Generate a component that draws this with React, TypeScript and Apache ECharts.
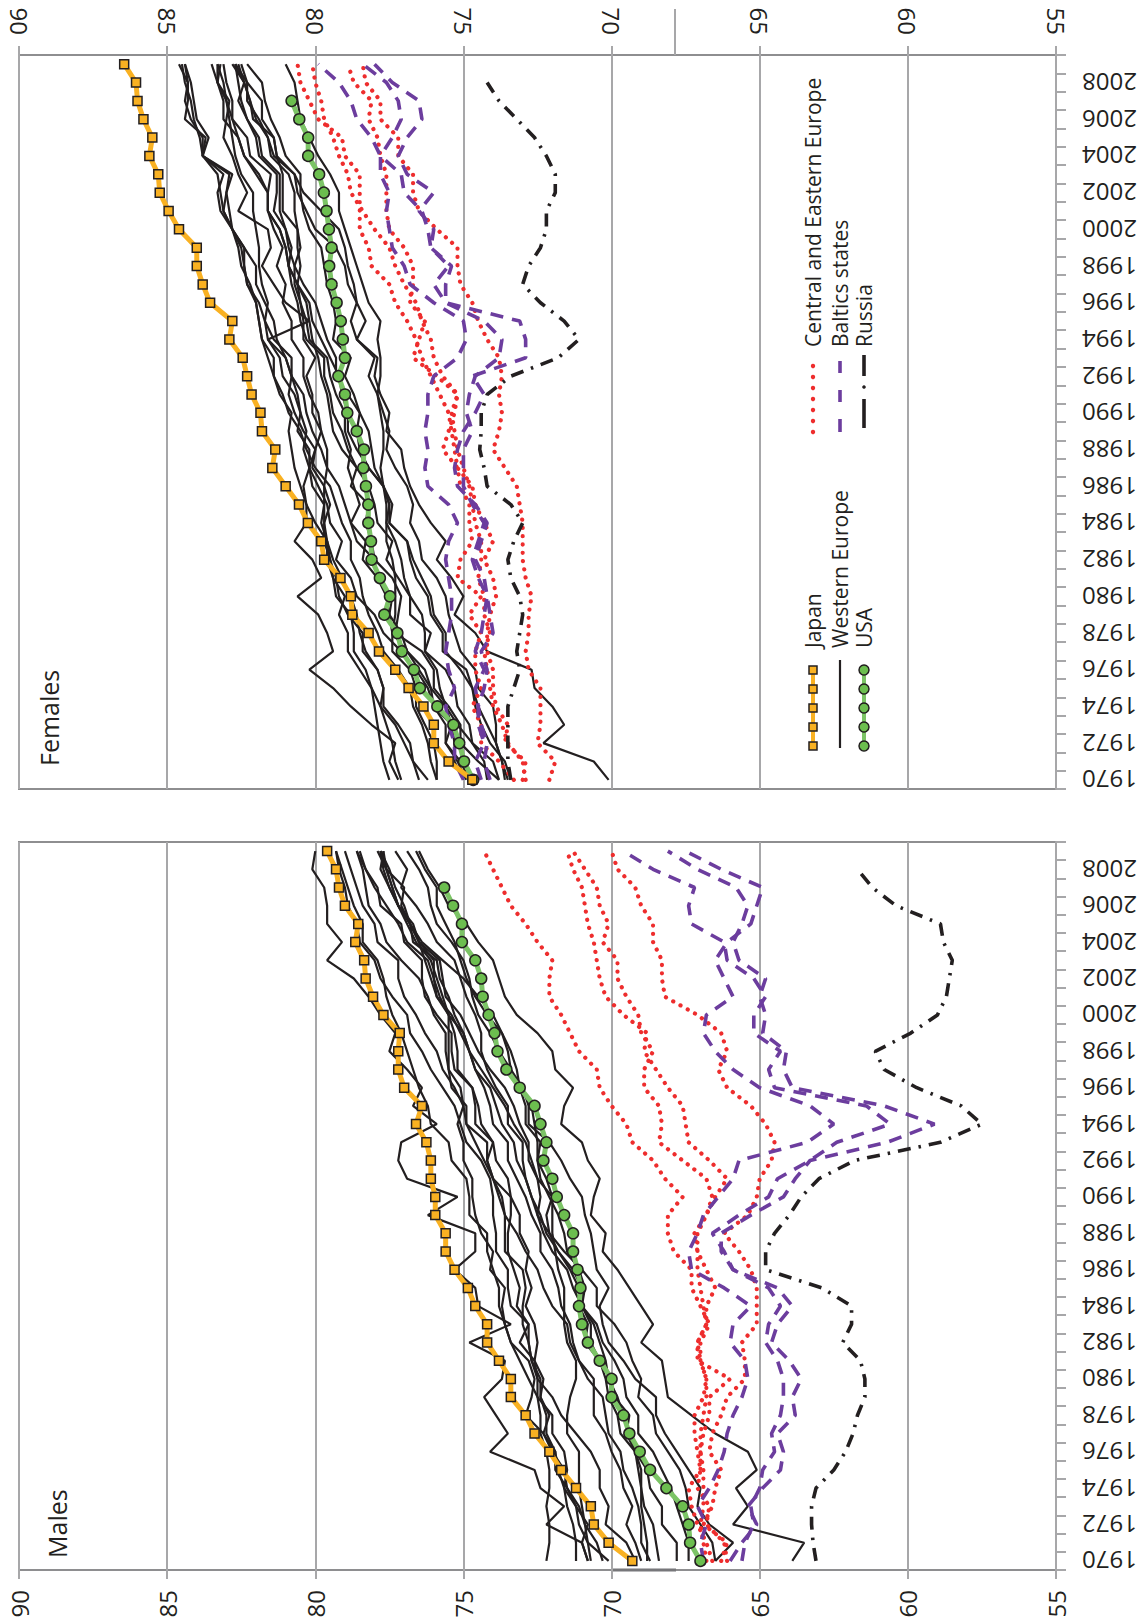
import React, { useEffect, useRef } from "react";
import * as echarts from "echarts";

// ---------- categories & ticks ----------
const years = ["1970","1971","1972","1973","1974","1975","1976","1977","1978","1979","1980","1981","1982","1983","1984","1985","1986","1987","1988","1989","1990","1991","1992","1993","1994","1995","1996","1997","1998","1999","2000","2001","2002","2003","2004","2005","2006","2007","2008","2009"];

// ---------- MALES ----------
const japanM = [69.3,70.1,70.6,70.7,71.2,71.7,72.1,72.6,72.9,73.4,73.4,73.8,74.2,74.2,74.6,74.85,75.3,75.6,75.6,75.95,75.95,76.1,76.1,76.25,76.6,76.4,77.0,77.2,77.2,77.15,77.7,78.05,78.3,78.35,78.65,78.55,79.0,79.2,79.3,79.6];
const usaM = [67.0,67.35,67.4,67.6,68.15,68.7,69.05,69.4,69.6,70.0,70.0,70.4,70.8,71.0,71.1,71.05,71.15,71.3,71.3,71.6,71.85,72.0,72.3,72.2,72.4,72.6,73.1,73.55,73.85,73.95,74.15,74.35,74.4,74.6,75.05,75.05,75.35,75.65];
const russiaM = [63.1,63.2,63.25,63.25,63.1,62.5,62.1,61.85,61.7,61.45,61.45,61.6,62.2,61.9,61.9,62.9,64.8,64.8,64.5,64.0,63.6,63.0,61.8,58.9,57.5,58.2,59.7,60.8,61.1,59.9,59.0,58.7,58.6,58.5,58.8,58.9,60.4,61.2,61.7];
const estoniaM = [65.6,65.5,65.2,65.3,65.0,64.9,64.5,64.6,64.3,64.2,64.2,64.4,64.8,64.7,64.3,64.7,65.9,66.2,66.6,65.7,64.7,64.4,63.3,62.4,60.6,61.4,64.5,64.7,64.3,65.2,65.2,64.8,65.2,66.1,66.2,67.3,67.4,67.2,68.6,69.6];
const latviaM = [66.0,65.6,65.1,65.4,64.9,64.3,64.2,64.4,63.8,63.9,63.6,64.0,64.6,64.4,63.9,64.4,65.9,66.3,66.3,65.3,64.2,63.8,63.3,60.7,59.1,60.8,63.9,64.2,64.1,64.9,64.8,65.0,64.8,65.7,65.9,65.6,65.4,65.8,67.1,68.1];
const lithuaniaM = [66.9,67.0,66.8,67.1,66.7,66.4,66.2,66.1,65.9,65.6,65.4,65.5,66.0,65.9,65.3,66.2,67.3,67.4,67.1,66.9,66.4,65.9,65.7,63.4,62.5,63.3,65.0,65.9,66.5,66.9,66.8,65.9,66.2,66.5,66.1,65.3,65.1,64.9,66.3,67.5];
const czechM = [66.1,66.2,66.8,66.7,67.1,67.0,67.1,67.2,67.2,66.9,66.8,67.0,67.0,66.7,67.0,67.3,67.3,67.9,68.1,68.1,67.6,68.2,68.6,69.3,69.5,70.0,70.4,70.5,71.1,71.4,71.7,72.1,72.1,72.0,72.5,72.9,73.4,73.7,74.0,74.3];
const slovakiaM = [66.8,66.9,67.0,66.9,66.9,66.9,67.0,67.0,66.9,66.8,66.8,67.0,67.1,66.8,66.9,67.0,67.1,67.1,67.1,66.8,66.6,66.8,67.6,68.4,68.3,68.4,68.9,68.9,68.6,69.0,69.1,69.5,69.8,69.8,70.3,70.1,70.4,70.5,70.9,71.3];
const polandM = [66.6,66.8,67.1,67.3,67.4,67.0,67.0,66.9,66.7,66.7,66.0,67.1,67.1,66.8,66.8,66.5,66.8,67.1,67.2,66.8,66.5,66.1,66.7,67.4,67.5,67.6,68.1,68.5,68.9,68.8,69.6,70.2,70.4,70.5,70.6,70.8,70.9,71.0,71.3,71.5];
const hungaryM = [66.3,66.1,66.9,66.6,66.5,66.3,66.7,66.6,66.3,66.1,65.5,65.5,65.6,65.1,65.1,65.1,65.3,65.7,66.2,65.4,65.1,65.0,64.6,64.5,64.8,65.3,66.1,66.4,66.1,66.3,67.1,68.2,68.3,68.3,68.6,68.6,69.0,69.2,69.8,70.0];
const swedenM = [72.2,72.1,72.1,72.2,72.1,72.1,72.2,72.4,72.4,72.5,72.8,73.1,73.4,73.6,73.8,73.8,74.0,74.2,74.2,74.8,74.8,74.9,75.4,75.5,76.1,76.2,76.5,76.7,76.9,77.1,77.4,77.6,77.7,77.9,78.4,78.4,78.7,78.9,79.1,79.3];
const icelandM = [70.8,71.0,72.2,71.6,72.4,72.6,74.1,73.5,73.9,74.3,73.7,73.6,74.8,73.4,74.5,74.6,75.3,74.6,74.6,76.2,75.2,76.9,77.2,77.1,75.9,76.7,76.4,76.9,77.5,77.3,77.8,78.2,78.7,79.6,79.1,79.6,79.6,79.7,80.1,80.0];
const switzerlandM = [70.3,70.5,70.9,71.1,71.5,71.6,72.0,72.3,72.1,72.4,72.4,72.7,72.8,72.8,73.4,73.5,73.5,73.9,73.9,74.0,74.0,74.1,74.4,74.9,75.1,75.3,75.7,76.1,76.4,76.8,76.9,77.4,77.8,78.0,78.5,78.6,78.9,79.0,79.2,79.3];
const netherlandsM = [70.8,71.0,70.8,71.2,71.6,71.5,71.6,72.0,72.0,72.5,72.5,72.7,72.8,73.0,73.0,72.9,73.0,73.6,73.6,73.6,73.8,74.0,74.2,74.0,74.6,74.6,74.7,75.2,75.2,75.3,75.5,75.8,76.0,76.2,76.9,77.2,77.6,78.0,78.3,78.5];
const norwayM = [71.2,71.2,71.3,71.5,71.6,71.8,71.9,72.2,72.2,72.4,72.3,72.6,72.5,72.6,72.9,72.7,72.9,72.8,73.1,73.1,73.4,74.0,74.2,74.2,74.9,74.9,75.4,75.5,75.6,75.6,76.0,76.2,76.5,77.1,77.6,77.8,78.2,78.3,78.4,78.6];
const italyM = [69.0,69.2,69.5,69.3,69.6,69.7,70.0,70.2,70.6,70.6,70.6,71.1,71.4,71.5,72.0,72.3,72.5,72.9,73.2,73.6,73.7,74.0,74.3,74.6,74.9,75.0,75.3,75.7,75.9,76.3,76.6,77.0,77.2,77.2,77.9,78.0,78.4,78.6,78.8,79.0];
const spainM = [69.2,69.5,70.2,70.1,70.4,70.4,70.7,71.2,71.7,72.0,72.5,72.6,73.1,72.8,73.2,73.1,73.3,73.5,73.5,73.4,73.4,73.5,73.9,74.0,74.4,74.5,74.7,75.3,75.4,75.4,75.9,76.3,76.4,76.4,77.0,77.1,77.8,77.9,78.3,78.6];
const greeceM = [70.1,70.8,71.1,71.2,71.5,71.9,71.9,72.3,72.9,72.7,72.6,72.8,73.4,73.6,73.7,73.6,74.1,74.0,74.4,74.6,74.7,74.7,75.0,75.0,75.2,75.0,75.1,75.5,75.5,75.5,75.5,75.9,76.1,76.3,76.5,76.8,77.1,77.0,77.6,77.7];
const franceM = [68.4,68.5,68.6,68.9,69.0,69.0,69.2,69.7,69.8,70.1,70.2,70.4,70.7,70.7,71.0,71.3,71.5,72.0,72.3,72.5,72.7,72.9,73.2,73.3,73.7,73.9,74.1,74.6,74.8,75.0,75.3,75.5,75.8,75.9,76.7,76.8,77.2,77.5,77.7,77.8];
const ukM = [68.7,69.0,69.0,69.1,69.3,69.6,69.7,70.1,70.2,70.3,70.8,71.1,71.3,71.4,71.7,71.8,72.0,72.4,72.4,72.7,72.9,73.2,73.5,73.5,74.0,74.1,74.3,74.6,74.8,75.0,75.5,75.7,75.9,76.1,76.6,76.9,77.2,77.4,77.6,77.9];
const germanyM = [67.4,67.4,67.6,67.8,68.0,68.3,68.6,69.1,69.1,69.5,69.6,69.9,70.3,70.5,71.0,71.0,71.3,71.8,72.1,72.2,72.0,72.5,72.8,72.8,73.1,73.3,73.6,74.1,74.5,74.8,75.1,75.6,75.7,75.8,76.5,76.7,77.2,77.4,77.6,77.8];
const austriaM = [66.5,66.6,67.0,67.4,67.5,67.7,68.1,68.5,68.6,69.1,69.0,69.3,69.5,69.9,70.5,70.5,71.0,71.6,72.1,72.5,72.4,72.5,72.7,72.9,73.3,73.6,74.0,74.4,74.8,75.1,75.4,75.9,76.0,76.0,76.5,76.8,77.2,77.5,77.8,77.7];
const belgiumM = [67.8,67.8,68.3,68.3,68.7,68.8,69.2,69.5,69.4,69.9,70.0,70.4,70.9,70.8,71.1,71.1,71.4,71.8,72.2,72.4,72.7,72.9,73.0,73.0,73.5,73.5,73.9,74.2,74.4,74.4,74.6,74.9,75.1,75.3,75.9,76.2,76.6,77.1,76.9,77.3];
const denmarkM = [70.7,70.8,70.9,71.0,71.1,71.1,71.1,71.5,71.5,71.4,71.2,71.2,71.5,71.6,71.6,71.6,71.8,71.9,72.0,72.0,72.0,72.2,72.5,72.5,72.6,72.7,73.1,73.4,73.8,74.1,74.5,74.7,74.8,75.0,75.4,75.9,76.1,76.2,76.5,76.9];
const finlandM = [66.5,65.9,66.7,67.1,67.0,67.4,67.8,68.2,68.5,68.5,69.2,69.6,70.1,70.3,70.4,70.1,70.5,70.6,70.7,70.9,71.0,71.4,71.7,72.1,72.8,72.8,73.0,73.4,73.5,73.7,74.2,74.6,74.9,75.1,75.3,75.6,75.9,75.9,76.3,76.6];
const portugalM = [63.9,63.5,65.9,65.4,65.8,65.1,65.4,66.5,67.3,68.1,68.2,68.3,69.0,68.6,69.0,69.4,69.8,70.3,70.2,70.7,70.6,70.4,70.8,71.0,71.7,71.6,71.3,71.9,72.0,72.5,73.2,73.6,73.8,74.0,74.5,74.9,75.5,75.8,76.2,76.5];
const irelandM = [68.8,68.8,68.9,69.0,69.0,69.1,69.2,69.4,69.6,69.8,70.1,70.2,70.4,70.6,71.0,70.9,71.1,71.5,71.6,71.8,72.1,72.4,72.5,72.4,72.9,72.9,73.1,73.2,73.4,73.7,74.0,74.5,75.0,75.7,76.4,76.8,77.0,77.3,77.5,77.8];

// ---------- FEMALES ----------
const japanF = [74.7,75.5,76.0,76.0,76.35,76.85,77.3,77.85,78.2,78.75,78.8,79.15,79.7,79.8,80.25,80.55,81.0,81.45,81.35,81.8,81.85,82.15,82.3,82.45,82.9,82.8,83.55,83.8,84.0,84.0,84.6,84.95,85.25,85.3,85.6,85.5,85.8,86.0,86.05,86.45];
const usaF = [74.67,74.98,75.14,75.34,75.88,76.47,76.67,77.08,77.23,77.67,77.48,77.82,78.1,78.12,78.21,78.21,78.29,78.38,78.36,78.6,78.92,79.0,79.22,79.0,79.07,79.14,79.28,79.45,79.53,79.45,79.54,79.62,79.71,79.87,80.24,80.24,80.54,80.8];
const russiaF = [73.4,73.5,73.5,73.5,73.5,73.3,73.1,73.2,73.1,73.0,73.1,73.4,73.5,73.3,73.0,73.4,74.2,74.3,74.45,74.4,74.4,74.2,73.4,71.8,71.1,71.6,72.4,73.0,72.8,72.4,72.2,72.2,71.9,71.9,72.2,72.6,73.2,73.8,74.2];
const estoniaF = [74.1,74.3,74.2,74.4,74.5,74.6,74.3,74.6,74.4,74.3,74.2,74.5,74.7,74.5,74.3,74.7,75.0,75.0,75.0,74.7,74.9,74.8,74.6,73.8,73.7,74.3,75.6,76.0,75.5,76.1,76.2,76.4,77.0,77.1,77.8,78.1,78.6,78.8,79.2,79.9];
const latviaF = [74.4,74.6,74.3,74.5,74.5,74.3,74.2,74.4,74.0,74.1,74.2,74.3,74.6,74.4,74.2,74.6,75.2,75.3,75.2,75.0,74.6,74.3,74.7,72.9,72.9,73.1,75.6,75.6,75.4,76.1,76.0,76.5,76.0,76.9,77.2,76.9,76.4,76.5,77.4,78.0];
const lithuaniaF = [75.0,75.3,75.3,75.5,75.6,75.3,75.5,75.6,75.5,75.4,75.4,75.5,75.6,75.5,75.2,75.5,76.2,76.3,76.2,76.3,76.2,76.2,76.0,75.2,74.9,75.0,76.0,76.8,77.0,77.4,77.5,77.6,77.5,77.8,77.8,77.4,77.1,77.2,77.6,78.4];
const czechF = [73.0,72.9,73.6,73.5,73.9,74.0,74.0,74.2,74.2,74.1,73.9,74.0,74.3,74.0,74.3,74.6,74.7,75.2,75.3,75.4,75.5,75.8,76.1,76.4,76.6,76.9,77.3,77.5,78.1,78.2,78.5,78.5,78.5,78.5,79.0,79.1,79.9,80.2,80.5,80.6];
const slovakiaF = [72.9,73.0,73.5,73.7,74.0,74.1,74.2,74.3,74.1,74.3,74.3,74.5,74.4,74.4,74.6,74.7,74.8,75.0,75.2,75.3,75.4,75.2,75.9,76.7,76.5,76.3,76.8,76.7,76.7,77.0,77.5,77.6,77.6,77.6,77.8,77.9,78.2,78.1,78.7,78.9];
const polandF = [73.3,73.8,74.4,74.4,74.7,74.4,74.6,74.6,74.4,74.8,74.4,75.2,75.1,74.7,74.8,74.8,75.1,75.2,75.7,75.5,75.3,75.2,75.7,76.0,76.1,76.4,76.6,77.0,77.3,77.5,78.0,78.4,78.8,78.9,79.2,79.4,79.7,79.8,80.0,80.1];
const hungaryF = [72.1,71.9,72.5,72.4,72.4,72.4,72.8,72.9,72.8,72.8,72.7,72.9,73.0,73.0,73.0,73.1,73.2,73.6,74.0,73.8,73.7,73.8,73.7,73.8,74.2,74.5,74.7,75.1,75.2,75.2,75.9,76.5,76.7,76.7,77.2,77.2,77.8,77.8,78.3,78.4];
const swedenF = [77.1,77.3,77.4,77.6,77.8,77.7,77.9,78.3,78.5,78.6,78.8,79.1,79.4,79.6,79.8,79.7,80.1,80.2,80.2,80.6,80.5,80.6,80.8,80.8,81.4,81.7,81.6,81.8,81.9,81.9,82.0,82.1,82.1,82.5,82.7,82.8,82.9,83.0,83.1,83.3];
const switzerlandF = [76.2,76.7,77.0,77.3,77.8,78.1,78.5,78.9,78.9,79.2,79.0,79.4,79.5,79.6,80.0,80.3,80.5,80.7,80.8,80.9,80.8,81.2,81.4,81.6,81.8,81.9,82.0,82.2,82.5,82.6,82.8,83.1,83.2,83.3,83.8,83.9,84.1,84.2,84.4,84.5];
const franceF = [75.9,76.1,76.2,76.4,76.7,76.8,77.2,77.7,77.9,78.2,78.4,78.5,78.8,78.8,79.1,79.3,79.5,80.0,80.3,80.5,80.9,81.1,81.4,81.4,81.8,81.9,82.0,82.3,82.4,82.5,82.8,82.9,83.0,82.9,83.8,83.8,84.2,84.4,84.3,84.4];
const spainF = [74.8,75.1,75.6,75.6,76.0,76.2,76.6,77.1,77.7,78.0,78.6,78.8,79.3,79.1,79.5,79.6,79.9,80.2,80.4,80.3,80.5,80.7,81.1,81.2,81.6,81.7,81.9,82.3,82.4,82.4,82.8,83.2,83.3,83.1,83.8,83.7,84.4,84.3,84.3,84.6];
const italyF = [74.9,75.2,75.6,75.4,76.0,76.1,76.5,76.9,77.4,77.5,77.4,77.9,78.4,78.3,78.8,79.0,79.2,79.6,79.8,80.1,80.3,80.4,80.8,81.0,81.3,81.4,81.7,82.0,82.0,82.4,82.8,83.1,83.0,82.8,83.8,83.6,84.0,84.1,84.2,84.4];
const icelandF = [77.2,77.5,77.3,78.1,78.8,79.4,80.2,79.4,79.6,79.9,80.6,79.8,80.1,80.7,80.3,80.3,80.4,80.2,80.0,80.4,80.7,80.9,80.8,81.0,81.6,80.2,81.0,81.4,81.8,81.5,81.6,82.6,82.3,82.6,82.8,83.1,83.0,82.9,83.3,83.3];
const netherlandsF = [76.5,76.7,76.8,77.2,77.7,77.7,77.9,78.4,78.4,78.9,79.2,79.3,79.5,79.7,79.7,79.7,79.7,80.1,80.0,79.8,80.1,80.1,80.3,80.0,80.4,80.4,80.5,80.7,80.7,80.5,80.6,80.7,80.7,80.9,81.5,81.6,81.9,82.3,82.3,82.7];
const norwayF = [77.5,77.7,77.8,77.9,78.0,78.1,78.3,78.7,78.7,78.8,79.3,79.4,79.6,79.6,79.7,79.5,79.7,79.6,79.6,79.8,79.9,80.2,80.4,80.4,80.8,80.8,81.1,81.0,81.3,81.1,81.4,81.6,81.6,82.0,82.4,82.6,82.8,82.8,83.0,83.1];
const ukF = [75.0,75.3,75.3,75.4,75.6,75.8,75.9,76.3,76.3,76.4,76.8,77.0,77.1,77.3,77.6,77.6,77.7,78.0,78.1,78.2,78.5,78.7,79.0,78.8,79.4,79.3,79.4,79.6,79.7,79.8,80.2,80.4,80.5,80.5,81.0,81.2,81.5,81.7,81.8,82.3];
const germanyF = [73.6,73.7,73.9,74.2,74.5,74.7,74.9,75.7,75.7,76.1,76.2,76.6,76.8,76.9,77.5,77.5,77.7,78.2,78.5,78.6,78.5,78.9,79.3,79.3,79.6,79.8,80.0,80.4,80.7,80.9,81.0,81.4,81.3,81.3,81.9,82.0,82.3,82.5,82.6,82.7];
const austriaF = [73.4,73.6,74.1,74.4,74.6,74.7,75.1,75.6,75.6,76.0,76.1,76.4,76.7,76.9,77.5,77.4,77.7,78.2,78.6,78.9,78.9,79.1,79.2,79.5,79.8,80.1,80.2,80.6,80.9,81.0,81.2,81.6,81.6,81.5,82.2,82.3,82.8,83.0,83.3,83.2];
const belgiumF = [74.2,74.3,74.7,74.8,75.2,75.3,75.6,76.3,76.1,76.8,76.8,77.2,77.6,77.4,77.9,78.0,78.2,78.6,78.9,79.1,79.4,79.5,79.7,79.7,80.3,80.5,80.6,80.8,80.9,80.8,81.0,81.2,81.2,81.2,81.8,81.9,82.3,82.6,82.4,82.8];
const denmarkF = [75.9,75.9,76.0,76.3,76.6,76.6,76.8,77.4,77.4,77.3,77.3,77.3,77.4,77.6,77.6,77.5,77.7,77.8,77.7,77.7,77.8,77.9,77.8,77.8,77.9,77.8,78.2,78.4,78.6,78.8,79.0,79.2,79.2,79.5,79.9,80.2,80.5,80.6,80.7,81.0];
const finlandF = [73.8,74.0,74.7,75.2,75.6,76.1,76.3,76.9,77.1,77.5,77.6,77.9,78.0,78.6,78.8,78.5,78.7,78.9,78.8,79.0,79.0,79.3,79.5,79.6,80.2,80.3,80.5,80.6,80.9,81.0,81.2,81.6,81.6,81.9,82.4,82.6,83.1,83.1,83.3,83.5];
const portugalF = [70.1,70.6,72.3,71.6,72.0,72.6,72.7,74.2,74.6,75.3,75.0,75.4,75.9,75.6,76.1,76.5,76.8,77.0,77.1,77.6,77.5,77.8,78.0,77.9,78.6,78.8,78.6,78.9,79.0,79.3,80.0,80.3,80.6,80.7,81.3,81.4,82.1,82.2,82.4,82.6];
const greeceF = [73.8,74.5,75.1,75.1,75.5,76.0,76.0,76.4,77.3,77.2,77.1,77.4,78.0,78.1,78.3,78.2,78.8,78.6,79.1,79.4,79.5,79.6,79.8,79.9,80.1,80.2,80.3,80.6,80.5,80.6,80.6,81.1,81.1,81.1,81.3,81.4,81.8,81.8,82.3,82.5];
const irelandF = [73.5,73.7,73.9,73.9,74.0,74.5,74.6,75.1,75.3,75.5,75.6,75.9,76.4,76.5,76.8,76.7,76.9,77.3,77.6,77.5,77.7,77.9,78.2,78.0,78.6,78.3,78.6,78.7,78.9,79.0,79.2,79.8,80.4,80.7,81.4,81.6,82.0,82.2,82.4,82.7];

const weM = [swedenM, icelandM, switzerlandM, netherlandsM, norwayM, italyM, spainM, greeceM, franceM, ukM, germanyM, austriaM, belgiumM, denmarkM, finlandM, portugalM, irelandM];
const weF = [swedenF, icelandF, switzerlandF, netherlandsF, norwayF, italyF, spainF, greeceF, franceF, ukF, germanyF, austriaF, belgiumF, denmarkF, finlandF, portugalF, irelandF];
const ceeM = [czechM, slovakiaM, polandM, hungaryM];
const ceeF = [czechF, slovakiaF, polandF, hungaryF];
const balM = [estoniaM, latviaM, lithuaniaM];
const balF = [estoniaF, latviaF, lithuaniaF];

const legendLeft = ["Japan", "Western Europe", "USA"];
const legendRight = ["Central and Eastern Europe", "Baltics states", "Russia"];

// ---------- styles ----------
const FONT = "'Open Sans', 'Noto Sans', sans-serif";
const TXT = "#231F20";
const ORANGE = "#F9B122";
const GREEN = "#6CBE4F";
const GREEN_LINE = "#7CC466";
const RED = "#EE2D2D";
const PURPLE = "#6C3D9E";
const BLACK = "#231F20";
const GRID_GRAY = "#A7A7A9";
const FRAME_GRAY = "#8E8E90";

const pairs = (vals: number[]) => vals.map((v, i) => [v, years[i]]);

function buildSeries(g: number, jp: number[], us: number[], ru: number[], we: number[][], cee: number[][], bal: number[][]) {
  const base = { type: "line", xAxisIndex: g, yAxisIndex: g, silent: true, smooth: false };
  const out: any[] = [];
  we.forEach((v) => out.push({ ...base, data: pairs(v), symbol: "none", lineStyle: { color: BLACK, width: 2.2 }, z: 2 }));
  cee.forEach((v) => out.push({ ...base, data: pairs(v), symbol: "none", lineStyle: { color: RED, width: 4.2, type: [0.1, 8.2], cap: "round" }, z: 3 }));
  bal.forEach((v) => out.push({ ...base, data: pairs(v), symbol: "none", lineStyle: { color: PURPLE, width: 3.6, type: [13, 9], cap: "butt" }, z: 3 }));
  out.push({ ...base, data: pairs(ru), symbol: "none", lineStyle: { color: BLACK, width: 3.6, type: [13, 8, 2.5, 8], cap: "butt" }, z: 3 });
  out.push({ ...base, data: pairs(us), symbol: "circle", symbolSize: 11, showSymbol: true,
    itemStyle: { color: GREEN, borderColor: BLACK, borderWidth: 1.5 }, lineStyle: { color: GREEN_LINE, width: 5 }, z: 5 });
  out.push({ ...base, data: pairs(jp), symbol: "rect", symbolSize: 9, showSymbol: true,
    itemStyle: { color: ORANGE, borderColor: BLACK, borderWidth: 1.5 }, lineStyle: { color: ORANGE, width: 5 }, z: 6 });
  return out;
}

function valueAxis(g: number, position: string) {
  return {
    type: "value", gridIndex: g, position, min: 55, max: 90, interval: 5, inverse: true,
    axisLine: { show: false },
    axisTick: { show: true, length: 9, lineStyle: { color: GRID_GRAY, width: 2 } },
    splitLine: { show: true, lineStyle: { color: GRID_GRAY, width: 2 } },
    axisLabel: { rotate: 90, fontSize: 24, color: TXT, margin: 20, fontFamily: FONT },
  };
}

function yearAxis(g: number) {
  return {
    type: "category", gridIndex: g, position: "right", data: years, boundaryGap: true,
    axisLine: { show: true, lineStyle: { color: GRID_GRAY, width: 2 } },
    axisTick: { show: true, interval: 0, length: 10, lineStyle: { color: GRID_GRAY, width: 2 } },
    axisLabel: { interval: 1, rotate: 180, fontSize: 24, color: TXT, margin: 26, fontFamily: FONT },
    splitLine: { show: false },
  };
}

function vtext(text: string, x: number, y: number, size: number) {
  return {
    type: "text", x, y, rotation: Math.PI / 2, silent: true,
    style: { text, fontSize: size, fontFamily: FONT, fill: TXT, align: "left", verticalAlign: "middle", textAlign: "left", textVerticalAlign: "middle" },
  };
}

function legendGraphics() {
  const els: any[] = [];
  const c1 = 813, c2 = 840, c3 = 864;
  els.push(vtext(legendLeft[0], c1, 648, 21));
  els.push(vtext(legendLeft[1], c2, 648, 21));
  els.push(vtext(legendLeft[2], c3, 648, 21));
  els.push({ type: "line", silent: true, shape: { x1: c1, y1: 668, x2: c1, y2: 748 }, style: { stroke: ORANGE, lineWidth: 4 } });
  [670, 689, 708, 727, 746].forEach((y) =>
    els.push({ type: "rect", silent: true, shape: { x: c1 - 4, y: y - 4, width: 8, height: 8 }, style: { fill: ORANGE, stroke: BLACK, lineWidth: 1.5 } }));
  els.push({ type: "line", silent: true, shape: { x1: c2, y1: 660, x2: c2, y2: 748 }, style: { stroke: BLACK, lineWidth: 2.2 } });
  els.push({ type: "line", silent: true, shape: { x1: c3, y1: 668, x2: c3, y2: 748 }, style: { stroke: GREEN_LINE, lineWidth: 4 } });
  [670, 689, 708, 727, 746].forEach((y) =>
    els.push({ type: "circle", silent: true, shape: { cx: c3, cy: y, r: 5 }, style: { fill: GREEN, stroke: BLACK, lineWidth: 1.5 } }));
  els.push(vtext(legendRight[0], c1, 347, 21));
  els.push(vtext(legendRight[1], c2, 347, 21));
  els.push(vtext(legendRight[2], c3, 347, 21));
  [366, 377, 388, 399, 410, 421, 432].forEach((y) =>
    els.push({ type: "circle", silent: true, shape: { cx: c1, cy: y, r: 2.2 }, style: { fill: RED } }));
  [[361, 373], [390, 402], [419, 432]].forEach(([a, b]) =>
    els.push({ type: "line", silent: true, shape: { x1: c2, y1: a, x2: c2, y2: b }, style: { stroke: PURPLE, lineWidth: 3.6 } }));
  els.push({ type: "line", silent: true, shape: { x1: c3, y1: 355, x2: c3, y2: 376 }, style: { stroke: BLACK, lineWidth: 3.6 } });
  els.push({ type: "circle", silent: true, shape: { cx: c3, cy: 387, r: 1.8 }, style: { fill: BLACK } });
  els.push({ type: "line", silent: true, shape: { x1: c3, y1: 399, x2: c3, y2: 428 }, style: { stroke: BLACK, lineWidth: 3.6 } });
  return els;
}

export default function App() {
  const ref = useRef<HTMLDivElement>(null);
  useEffect(() => {
    if (!ref.current) return;
    const chart = echarts.init(ref.current, null, { renderer: "svg" });
    const option: any = {
      animation: false,
      backgroundColor: "#ffffff",
      grid: [
        { left: 19, top: 55, width: 1037, height: 734, show: true, borderColor: FRAME_GRAY, borderWidth: 2, backgroundColor: "transparent" },
        { left: 19, top: 842, width: 1037, height: 728, show: true, borderColor: FRAME_GRAY, borderWidth: 2, backgroundColor: "transparent" },
      ],
      xAxis: [valueAxis(0, "top"), valueAxis(1, "bottom")],
      yAxis: [yearAxis(0), yearAxis(1)],
      series: [
        ...buildSeries(0, japanF, usaF, russiaF, weF, ceeF, balF),
        ...buildSeries(1, japanM, usaM, russiaM, weM, ceeM, balM),
      ],
      graphic: [
        vtext("Females", 49, 766, 25),
        vtext("Males", 57, 1558, 25),
        { type: "line", silent: true, shape: { x1: 675, y1: 9, x2: 675, y2: 55 }, style: { stroke: GRID_GRAY, lineWidth: 2 } },
        { type: "line", silent: true, shape: { x1: 612, y1: 1570, x2: 676, y2: 1570 }, style: { stroke: "#77777A", lineWidth: 3 } },
        ...legendGraphics(),
      ],
    };
    chart.setOption(option);
    return () => chart.dispose();
  }, []);
  return <div ref={ref} style={{ position: "absolute", left: 0, top: 0, width: 1145, height: 1622 }} />;
}
